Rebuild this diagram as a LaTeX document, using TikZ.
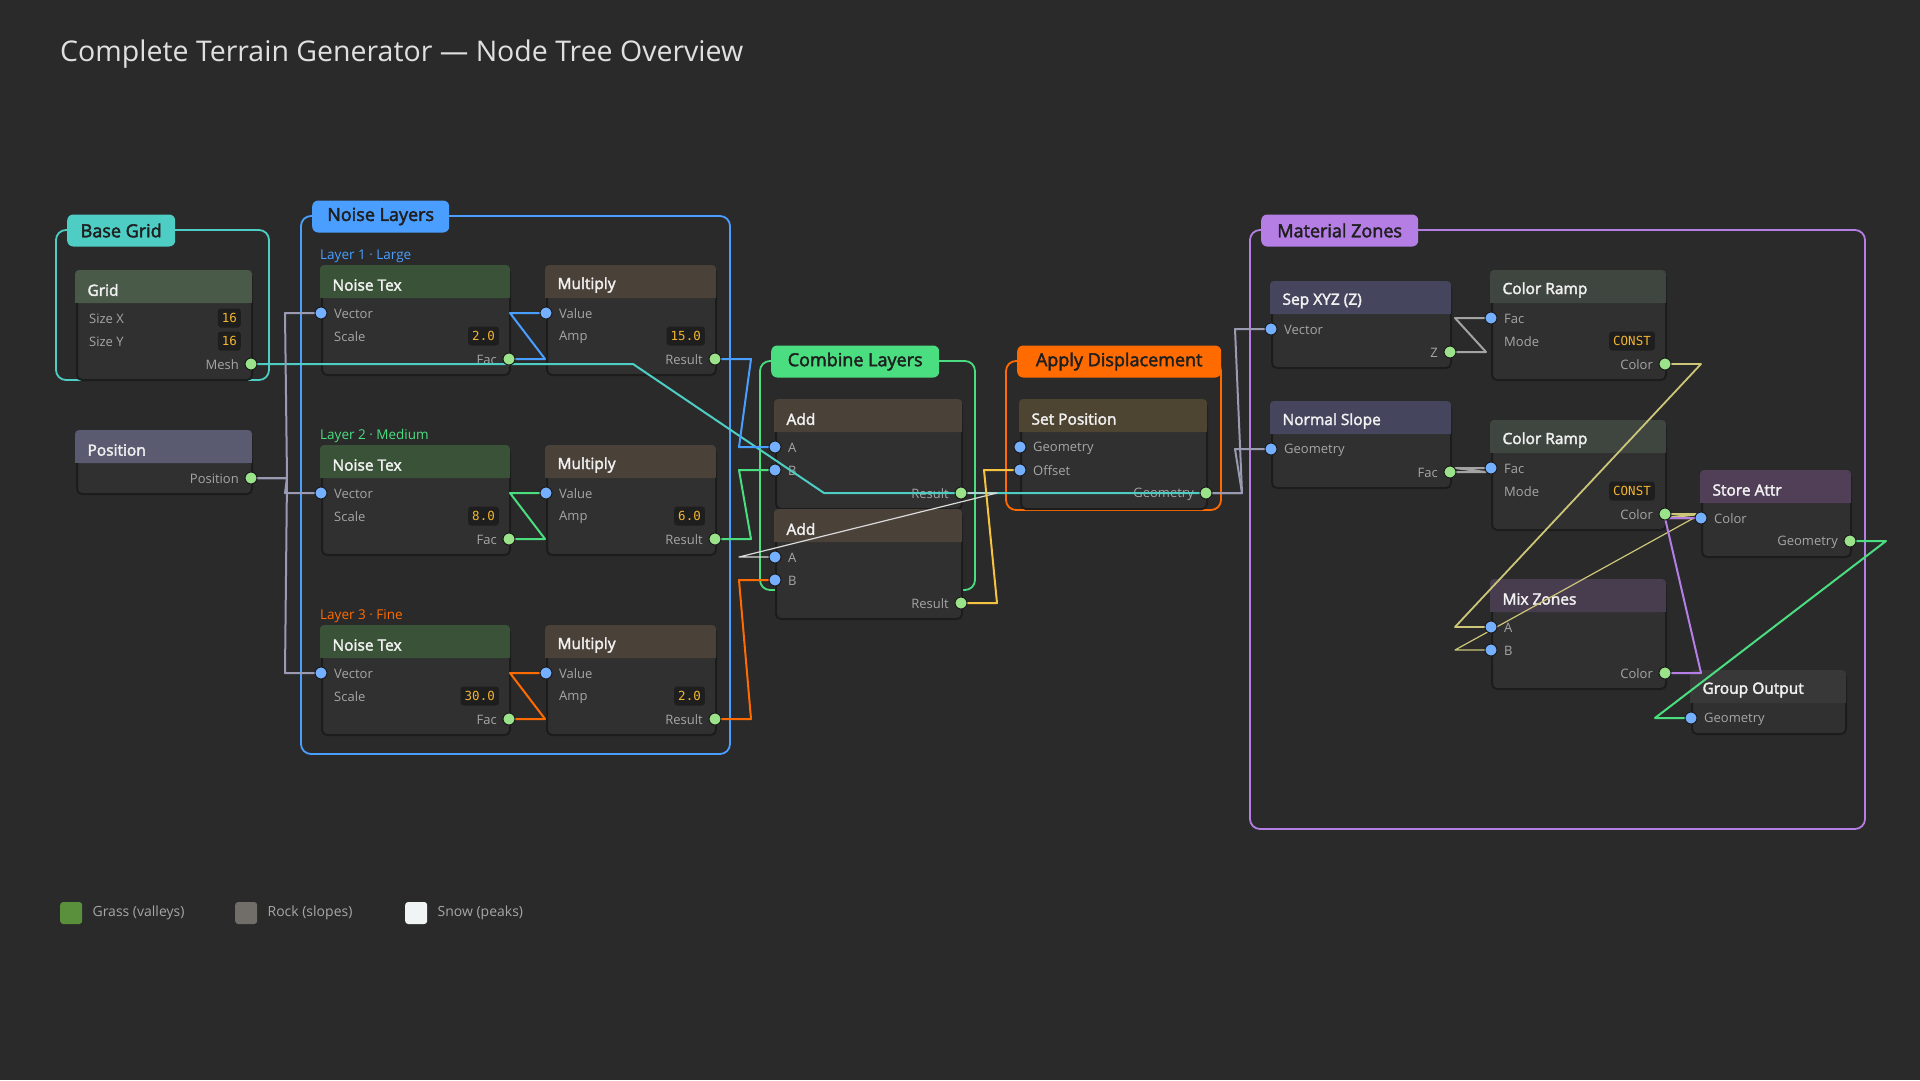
\documentclass[tikz,border=0pt]{standalone}
\usepackage{fontspec}
\setmainfont{Open Sans}
\setmonofont{DejaVu Sans Mono}
\newfontfamily\semibold{Open Sans}[FakeBold=2.4]
\usepackage{tikz}
\usetikzlibrary{positioning,calc}
\usepackage{xcolor}
\definecolor{canvas}{HTML}{2A2A2A}
\definecolor{nodebg}{HTML}{303030}
\definecolor{nodeedge}{HTML}{1C1C1C}
\definecolor{fieldbg}{HTML}{1E1E1E}
\definecolor{fieldfg}{HTML}{F2B530}
\definecolor{rowfg}{HTML}{A6A6A6}
\definecolor{titlefg}{HTML}{F0F0F0}
\definecolor{sockin}{HTML}{74B0FF}
\definecolor{sockout}{HTML}{9BE38A}
\definecolor{cgrid}{HTML}{4ECDC4}
\definecolor{cnoise}{HTML}{4A9EFF}
\definecolor{ccombine}{HTML}{4ADE80}
\definecolor{cdisp}{HTML}{FF6B00}
\definecolor{czones}{HTML}{B47EE5}
\definecolor{cyellow}{HTML}{F5C242}
\definecolor{ckhaki}{HTML}{CCC679}
\definecolor{clav}{HTML}{9A9AB2}
\definecolor{cgray}{HTML}{A3A3A3}
\definecolor{cwhite}{HTML}{DADADA}
\definecolor{hgrid}{HTML}{4A5A48}
\definecolor{hpos}{HTML}{5A5A70}
\definecolor{hnoise}{HTML}{3A5238}
\definecolor{hmath}{HTML}{4A4139}
\definecolor{hsetpos}{HTML}{4E4432}
\definecolor{hsep}{HTML}{45455E}
\definecolor{hramp}{HTML}{3F4640}
\definecolor{hstore}{HTML}{503F56}
\definecolor{hmix}{HTML}{483C4F}
\definecolor{hout}{HTML}{383838}
\definecolor{grass}{HTML}{5A8F3C}
\definecolor{rock}{HTML}{716D68}
\definecolor{snow}{HTML}{F0F4F5}
\pgfdeclarelayer{wires}
\pgfdeclarelayer{socks}
\pgfsetlayers{main,wires,socks}
\tikzset{
  rowlab/.style={inner sep=0pt,text=rowfg,font=\fontsize{13}{15}\selectfont},
  field/.style={fill=fieldbg,rounded corners=3pt,inner xsep=4pt,inner ysep=0pt,minimum height=19pt,
    text=fieldfg,font=\ttfamily\fontsize{12.5}{14}\selectfont},
  sock/.style={draw=nodeedge,line width=1pt}
}
\newcommand{\tgroup}[8]{%
  \draw[#6,line width=1.8pt,rounded corners=10pt] (#2,#3) rectangle (#4,#5);
  \node[fill=#6,rounded corners=6pt,minimum height=32pt,minimum width=#8pt,inner xsep=0pt,
        text=black!88,font=\semibold\fontsize{18}{20}\selectfont,anchor=west] (#1) at (#2+11,#3+0.5) {#7};
}
\newcommand{\gnode}[8]{%
  \pgfmathsetmacro{\nh}{39+23*#5}
  \node[draw=nodeedge,line width=2pt,fill=nodebg,rounded corners=5pt,inner sep=0pt,
        minimum width=#4pt,minimum height=\nh pt,anchor=north west] (#1) at (#2,#3) {};
  \fill[#6,rounded corners=4pt] (#2-1,#3-1) rectangle ++(#4+2,33);
  \fill[#6] (#2-1,#3+16) rectangle ++(#4+2,16);
  \node[anchor=west,text=titlefg,font=\semibold\fontsize{15.5}{18}\selectfont] (#1-t) at (#2+8,#3+19) {#7};
  \foreach \k/\kind/\lab/\val in {#8} {
    \pgfmathsetmacro{\ry}{#3+47+23*(\k-1)}
    \ifcase\kind
      \coordinate (#1-\k) at (#2,\ry);
      \node[rowlab,anchor=west] (#1-l\k) at (#2+13,\ry+1) {\lab};
      \begin{pgfonlayer}{socks}\fill[sockin,sock] (#1-\k) circle (6pt);\end{pgfonlayer}
    \or
      \node[rowlab,anchor=west] (#1-l\k) at (#2+13,\ry+1) {\lab};
      \node[field,anchor=east] (#1-v\k) at (#2+#4-10,\ry) {\val};
    \or
      \coordinate (#1-\k) at (#2+#4,\ry);
      \node[rowlab,anchor=east] (#1-l\k) at (#2+#4-12,\ry+1) {\lab};
      \begin{pgfonlayer}{socks}\fill[sockout,sock] (#1-\k) circle (6pt);\end{pgfonlayer}
    \fi
  }
}
\newcommand{\wire}[4]{%
  \begin{pgfonlayer}{wires}
  \draw[draw=#3,line width=#4pt,line join=round]
    let \p1=(#1),\p2=(#2),\n1={max(0.4*(\x2-\x1),36)} in
    (\p1) -- ++(\n1,0) -- ($(\p2)+(-\n1,0)$) -- (\p2);
  \end{pgfonlayer}
}

\begin{document}
\begin{tikzpicture}[x=1pt,y=-1pt]
  \fill[canvas] (0,0) rectangle (1920,1080);
  \useasboundingbox (0,0) rectangle (1920,1080);
  \node[anchor=base west,inner sep=0pt,text=black!12,font=\fontsize{28.5}{34}\selectfont] (title)
        at (60,61) {Complete Terrain Generator — Node Tree Overview};
  \tgroup{gbase}{56}{230}{269}{380}{cgrid}{Base Grid}{108}
  \tgroup{gnoise}{301}{216}{730}{754}{cnoise}{Noise Layers}{137}
  \tgroup{gcombine}{760}{361}{975}{590}{ccombine}{Combine Layers}{168}
  \tgroup{gdisp}{1006}{361}{1221}{510}{cdisp}{Apply Displacement}{204}
  \tgroup{gzones}{1250}{230}{1865}{829}{czones}{Material Zones}{157}
  \foreach \i/\y/\c/\t in {1/256/cnoise/Layer 1 · Large, 2/436/ccombine/Layer 2 · Medium, 3/616/cdisp/Layer 3 · Fine} {
    \node[anchor=west,inner sep=0pt,text=\c,font=\fontsize{13.5}{16}\selectfont] (lay\i) at (320,\y) {\t};
  }
  \gnode{grid}{76}{271}{175}{3}{hgrid}{Grid}{1/1/Size X/16, 2/1/Size Y/16, 3/2/Mesh/}
  \gnode{pos}{76}{431}{175}{1}{hpos}{Position}{1/2/Position/}
  \foreach \i/\y/\s/\a in {1/266/2.0/15.0, 2/446/8.0/6.0, 3/626/30.0/2.0} {
    \gnode{nt\i}{321}{\y}{188}{3}{hnoise}{Noise Tex}{1/0/Vector/, 2/1/Scale/\s, 3/2/Fac/}
    \gnode{mul\i}{546}{\y}{169}{3}{hmath}{Multiply}{1/0/Value/, 2/1/Amp/\a, 3/2/Result/}
  }
  \gnode{add1}{775}{400}{186}{3}{hmath}{Add}{1/0/A/, 2/0/B/, 3/2/Result/}
  \gnode{add2}{775}{510}{186}{3}{hmath}{Add}{1/0/A/, 2/0/B/, 3/2/Result/}
  \gnode{setpos}{1020}{400}{186}{3}{hsetpos}{Set Position}{1/0/Geometry/, 2/0/Offset/, 3/2/Geometry/}
  \gnode{sep}{1271}{282}{179}{2}{hsep}{Sep XYZ (Z)}{1/0/Vector/, 2/2/Z/}
  \gnode{slope}{1271}{402}{179}{2}{hsep}{Normal Slope}{1/0/Geometry/, 2/2/Fac/}
  \gnode{ramp1}{1491}{271}{174}{3}{hramp}{Color Ramp}{1/0/Fac/, 2/1/Mode/CONST, 3/2/Color/}
  \gnode{ramp2}{1491}{421}{174}{3}{hramp}{Color Ramp}{1/0/Fac/, 2/1/Mode/CONST, 3/2/Color/}
  \gnode{store}{1701}{471}{149}{2}{hstore}{Store Attr}{1/0/Color/, 2/2/Geometry/}
  \gnode{mix}{1491}{580}{174}{3}{hmix}{Mix Zones}{1/0/A/, 2/0/B/, 3/2/Color/}
  \gnode{gout}{1691}{671}{154}{1}{hout}{Group Output}{1/0/Geometry/}
  \foreach \a/\b/\c/\w in {grid-3/setpos-3/cgrid/2, pos-1/nt1-1/clav/2, pos-1/nt2-1/clav/2, pos-1/nt3-1/clav/2,
      nt1-3/mul1-1/cnoise/2, nt2-3/mul2-1/ccombine/2, nt3-3/mul3-1/cdisp/2,
      mul1-3/add1-1/cnoise/2, mul2-3/add1-2/ccombine/2, mul3-3/add2-2/cdisp/2,
      add1-3/add2-1/cwhite/1.2, add2-3/setpos-2/cyellow/2, setpos-3/sep-1/clav/2, setpos-3/slope-1/clav/2,
      sep-2/ramp1-1/cgray/2, slope-2/ramp2-1/cgray/2, ramp1-3/mix-1/ckhaki/1.8, ramp2-3/mix-2/ckhaki/1.2,
      ramp2-3/store-1/ckhaki/2, mix-3/store-1/czones/2, store-2/gout-1/ccombine/2} {
    \wire{\a}{\b}{\c}{\w}
  }
  \foreach \x/\c/\t [count=\i] in {60/grass/Grass (valleys), 235/rock/Rock (slopes), 405/snow/Snow (peaks)} {
    \node[fill=\c,rounded corners=3pt,minimum size=22pt,inner sep=0pt,anchor=west] (lg\i) at (\x,913) {};
    \node[right=10pt of lg\i,inner sep=0pt,text=rowfg,font=\fontsize{14}{16}\selectfont] (lgt\i) {\t};
  }
\end{tikzpicture}
\end{document}
